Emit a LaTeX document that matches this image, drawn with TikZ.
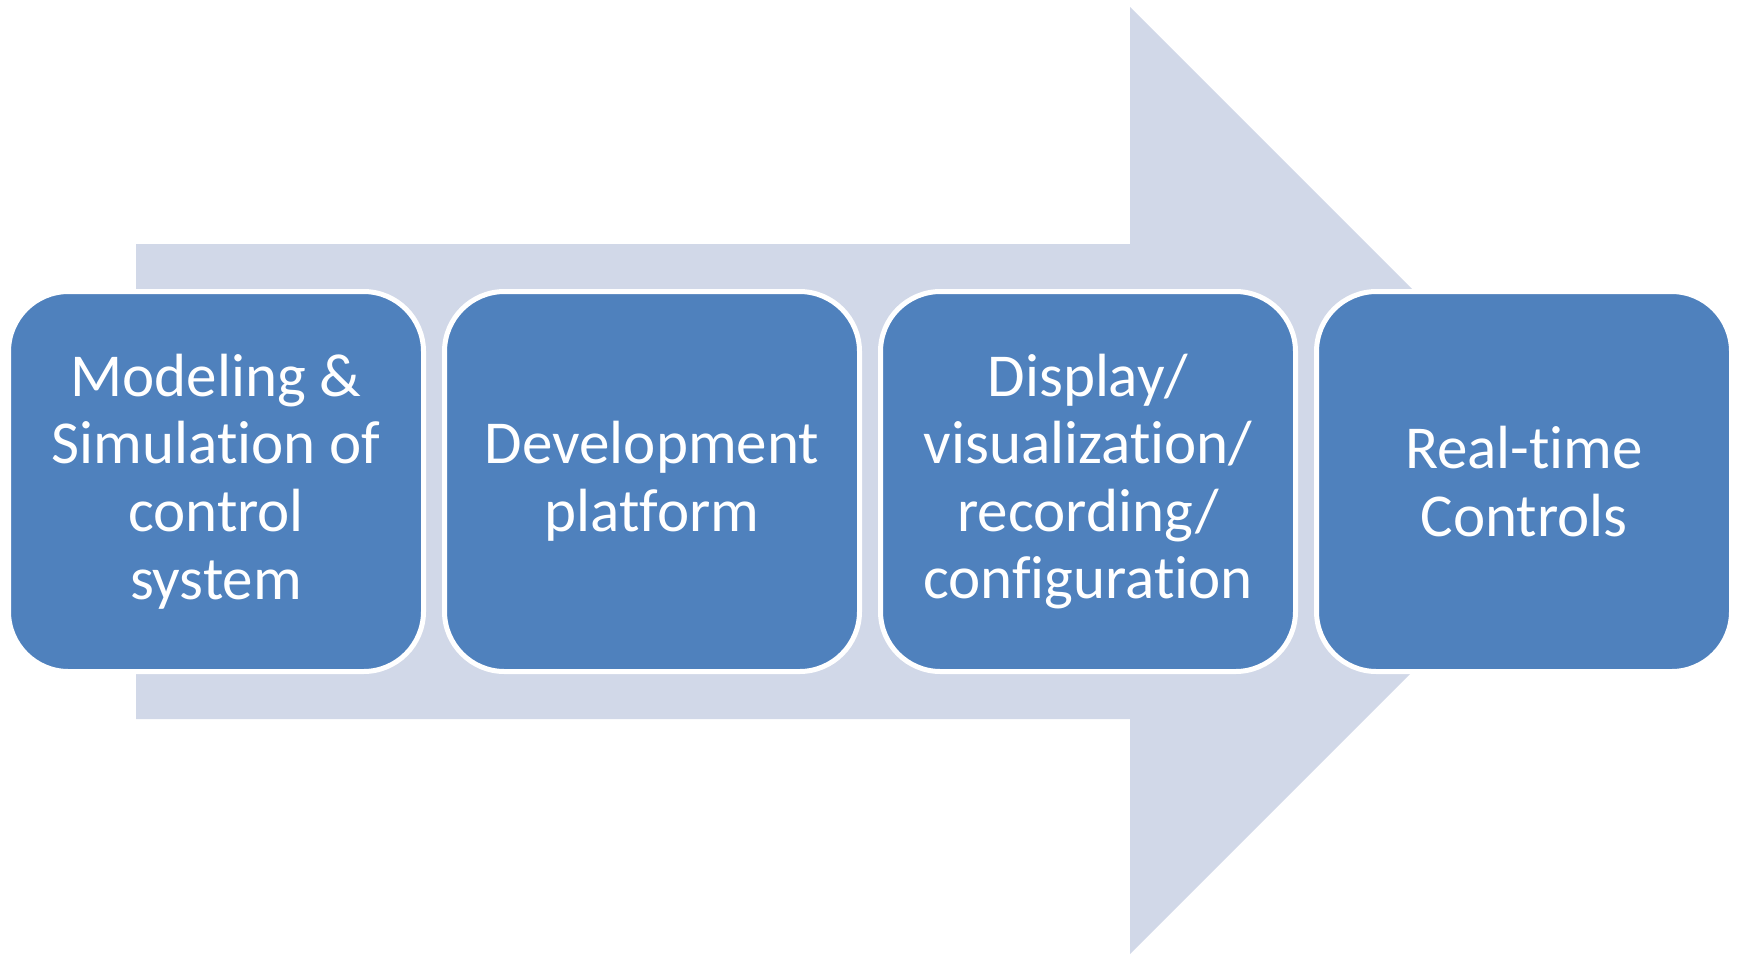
\documentclass[tikz,border=0pt]{standalone}
\usepackage{fontspec}
\setmainfont[Ligatures=NoCommon]{Carlito}
\definecolor{stepblue}{RGB}{79,129,189}
\definecolor{arrowgrey}{RGB}{209,216,232}

\begin{document}
\begin{tikzpicture}[x=0.5pt, y=-0.5pt]
	\tikzstyle{every node}=[align=center]
	\tikzstyle{stepbox}=[draw=white, line width=2.5pt, fill=stepblue, text=white,
		rounded corners=30pt, minimum width=207.5pt, minimum height=190pt,
		inner sep=0pt, font=\fontsize{30.5}{33.8}\selectfont]
	\useasboundingbox (0, 0) rectangle (1739, 955);
	% big arrow behind the steps
	\fill [arrowgrey] (136, 244) -- (1130, 244) -- (1130, 7) -- (1603.5, 480.5)
		-- (1130, 954) -- (1130, 719) -- (136, 719) -- cycle;
	% steps
	\node [stepbox] (model) at (216, 481.5) {Modeling \&\\Simulation of\\control\\system};
	\node [stepbox] (devel) at (652, 481.5) {Development\\platform};
	\node [stepbox] (display) at (1088, 481.5) {Display/\\visualization/\\recording/\\configuration};
	\node [stepbox] (ctrl) at (1524, 481.5) {Real-time\\Controls};
\end{tikzpicture}
\end{document}
